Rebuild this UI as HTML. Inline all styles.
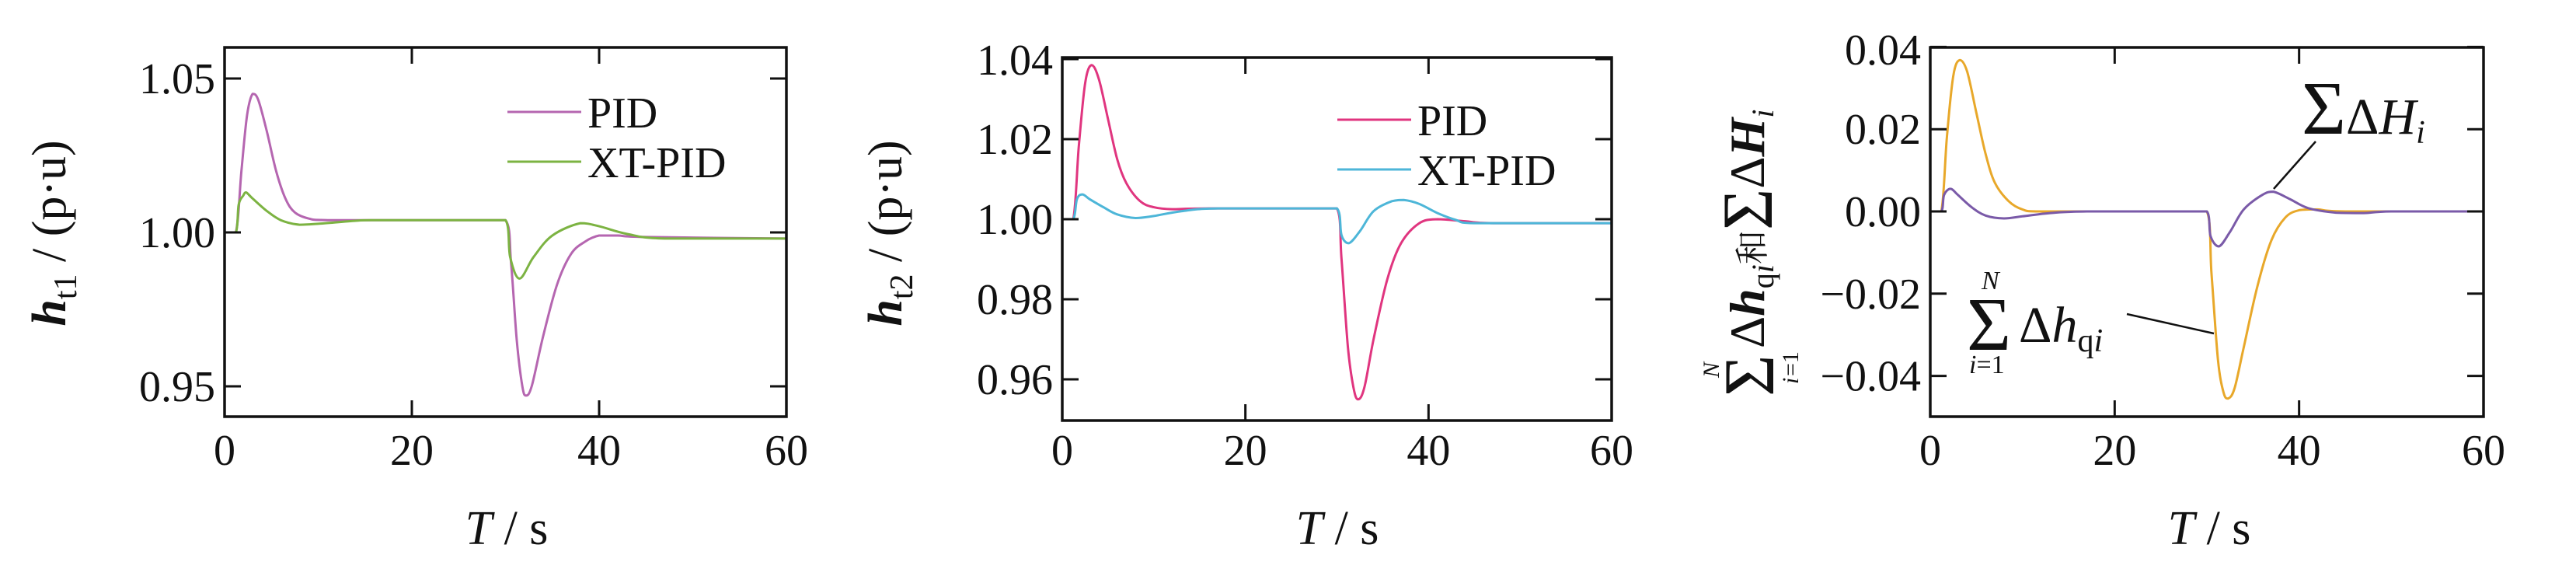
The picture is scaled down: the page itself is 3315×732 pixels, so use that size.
<!DOCTYPE html>
<html><head><meta charset="utf-8"><style>
html,body{margin:0;padding:0;background:#fff;}
svg{display:block;}
text{font-family:"Liberation Serif","Noto Serif CJK SC",serif;fill:#111;}
</style></head><body>
<svg id="s" width="3315" height="732" viewBox="0 0 3315 732" xmlns="http://www.w3.org/2000/svg">
<g transform="translate(84,300) rotate(-90)"><text text-anchor="middle" font-size="62"><tspan font-weight="bold" font-style="italic">h</tspan><tspan font-size="42" dy="14">t1</tspan><tspan dy="-14"> / (p·u)</tspan></text></g>
<g transform="translate(1160,300) rotate(-90)"><text text-anchor="middle" font-size="62"><tspan font-weight="bold" font-style="italic">h</tspan><tspan font-size="42" dy="14">t2</tspan><tspan dy="-14"> / (p·u)</tspan></text></g>
<g transform="translate(2270,282) rotate(-90)">
<text x="-228" y="12" font-size="92">Σ</text>
<text x="-212" y="44" font-size="30" font-style="italic">i</text><text x="-202" y="44" font-size="30">=1</text>
<text x="-204" y="-58" font-size="30" font-style="italic">N</text>
<text x="-166" y="0" font-size="64"><tspan>Δ</tspan><tspan font-weight="bold" font-style="italic">h</tspan><tspan font-size="40" dy="12">q</tspan><tspan font-size="40" font-style="italic">i</tspan><tspan dy="-12" font-size="44" font-family="'Noto Serif CJK SC',serif">和</tspan><tspan font-size="92" dy="10">Σ</tspan><tspan dy="-10">Δ</tspan><tspan font-weight="bold" font-style="italic">H</tspan><tspan font-size="40" dy="12" font-style="italic">i</tspan></text>
</g>
<text x="652" y="700" text-anchor="middle" font-size="62"><tspan font-style="italic">T</tspan> / s</text>
<text x="1721" y="700" text-anchor="middle" font-size="62"><tspan font-style="italic">T</tspan> / s</text>
<text x="2843" y="700" text-anchor="middle" font-size="62"><tspan font-style="italic">T</tspan> / s</text>
<g id="g"></g>
<text x="2962" y="172" font-size="66"><tspan font-size="98">Σ</tspan>Δ<tspan font-style="italic">H</tspan><tspan font-size="42" dy="12" font-style="italic">i</tspan></text>
<line x1="2980" y1="182" x2="2926" y2="243" stroke="#111" stroke-width="2.5"/>
<text x="2531" y="450" font-size="98">Σ</text>
<text x="2550" y="372" font-size="34" font-style="italic">N</text>
<text x="2534" y="480" font-size="34"><tspan font-style="italic">i</tspan>=1</text>
<text x="2598" y="440" font-size="66">Δ<tspan font-style="italic">h</tspan><tspan font-size="42" dy="12">q</tspan><tspan font-size="42" font-style="italic">i</tspan></text>
<line x1="2737" y1="404" x2="2849" y2="429" stroke="#111" stroke-width="2.5"/>
</svg>
<script>
var NS="http://www.w3.org/2000/svg",G=document.getElementById('g');
function el(n,a,t){var e=document.createElementNS(NS,n);for(var k in a)e.setAttribute(k,a[k]);if(t!==undefined)e.textContent=t;G.appendChild(e);return e;}
function cl(v,a,b){var lo=Math.min(a,b),hi=Math.max(a,b);return Math.max(lo,Math.min(hi,v));}
function cr(pts,X,Y){var d="M"+X(pts[0][0]).toFixed(1)+","+Y(pts[0][1]).toFixed(1);
for(var i=0;i<pts.length-1;i++){var p0=pts[Math.max(0,i-1)],p1=pts[i],p2=pts[i+1],p3=pts[Math.min(pts.length-1,i+2)];
var a=[X(p0[0]),Y(p0[1])],b=[X(p1[0]),Y(p1[1])],c=[X(p2[0]),Y(p2[1])],e=[X(p3[0]),Y(p3[1])];
var c1=[b[0]+(c[0]-a[0])/6,cl(b[1]+(c[1]-a[1])/6,b[1],c[1])],c2=[c[0]-(e[0]-b[0])/6,cl(c[1]-(e[1]-b[1])/6,b[1],c[1])];
c1[0]=cl(c1[0],b[0],c[0]);c2[0]=cl(c2[0],b[0],c[0]);
d+=" C"+c1.map(function(v){return v.toFixed(1)}).join(",")+" "+c2.map(function(v){return v.toFixed(1)}).join(",")+" "+c.map(function(v){return v.toFixed(1)}).join(",");}return d;}
function panel(o){var X=function(t){return o.l+(o.r-o.l)*t/60;},Y=function(v){return o.y0+(v-o.v0)*o.k;};
o.series.forEach(function(s){el('path',{d:cr(s.p,X,Y),fill:'none',stroke:s.c,'stroke-width':3,'stroke-linejoin':'round'});});
el('rect',{x:o.l,y:o.t,width:o.r-o.l,height:o.b-o.t,fill:'none',stroke:'#111','stroke-width':3.5});
[0,20,40,60].forEach(function(t){var x=X(t);el('line',{x1:x,y1:o.b,x2:x,y2:o.b-21,stroke:'#111','stroke-width':3});el('line',{x1:x,y1:o.t,x2:x,y2:o.t+21,stroke:'#111','stroke-width':3});
el('text',{x:x,y:598,'text-anchor':'middle','font-size':56},String(t));});
o.yt.forEach(function(v){var y=Y(v[0]);el('line',{x1:o.l,y1:y,x2:o.l+21,y2:y,stroke:'#111','stroke-width':3});el('line',{x1:o.r,y1:y,x2:o.r-21,y2:y,stroke:'#111','stroke-width':3});
el('text',{x:o.l-12,y:(v[2]||y)+19,'text-anchor':'end','font-size':56},v[1]);});
(o.leg||[]).forEach(function(g){el('line',{x1:g.x1,y1:g.y,x2:g.x2,y2:g.y,stroke:g.c,'stroke-width':3});el('text',{x:g.x2+8,y:g.y+20,'font-size':56},g.t);});}
panel({l:289,r:1012,t:61,b:536,y0:299,v0:1,k:-3960,yt:[[1.05,'1.05'],[1.0,'1.00'],[0.95,'0.95']],
leg:[{x1:653,x2:748,y:144,c:'#b566b0',t:'PID'},{x1:653,x2:748,y:208,c:'#7cb342',t:'XT-PID'}],
series:[{c:'#b566b0',p:[[0,1],[1.2,1],[1.8,1.02],[2.4,1.038],[3,1.045],[3.6,1.043],[4.5,1.033],[5.5,1.02],[6.5,1.011],[7.5,1.0065],[9,1.0045],[11,1.004],[30,1.004],[30.6,0.99],[31.2,0.965],[31.8,0.95],[32.2,0.947],[32.8,0.95],[34,0.966],[35.5,0.983],[37,0.993],[38.5,0.997],[40,0.999],[42,0.999],[45,0.9985],[60,0.998]]},
{c:'#7cb342',p:[[0,1],[1.2,1],[1.5,1.009],[2,1.012],[2.3,1.013],[3,1.011],[4.5,1.007],[6,1.004],[8,1.0025],[10,1.0028],[14,1.0038],[16,1.004],[30,1.004],[30.5,0.992],[31.5,0.985],[33,0.992],[35,0.999],[38,1.003],[40,1.002],[43,0.9995],[47,0.998],[60,0.998]]}]});
panel({l:1367,r:2074,t:74,b:541,y0:282,v0:1,k:-5150,yt:[[1.04,'1.04',77],[1.02,'1.02'],[1.0,'1.00'],[0.98,'0.98'],[0.96,'0.96']],
leg:[{x1:1721,x2:1816,y:154,c:'#e0357f',t:'PID'},{x1:1721,x2:1816,y:218,c:'#4db6d8',t:'XT-PID'}],
series:[{c:'#e0357f',p:[[0,1],[1.2,1],[1.8,1.018],[2.5,1.034],[3.2,1.0385],[4,1.035],[5,1.025],[6,1.015],[7,1.009],[8.5,1.0045],[10,1.003],[12,1.0025],[16,1.0027],[30,1.0027],[30.5,0.99],[31.2,0.968],[31.8,0.958],[32.3,0.955],[33,0.958],[34,0.97],[35.5,0.985],[37,0.994],[39,0.999],[41,1.0],[44,0.9995],[47,0.999],[60,0.999]]},
{c:'#4db6d8',p:[[0,1],[1.2,1],[1.6,1.005],[2.2,1.0062],[3,1.005],[4.5,1.003],[6,1.0012],[8,1.0003],[10,1.0008],[13,1.002],[17,1.0027],[30,1.0027],[30.5,0.996],[31.3,0.994],[32.5,0.997],[34,1.002],[36,1.0045],[37.3,1.0048],[39,1.0038],[41,1.0015],[43,0.9998],[45,0.999],[60,0.999]]}]});
panel({l:2484,r:3196,t:61,b:536,y0:272,v0:0,k:-5290,yt:[[0.04,'0.04',64],[0.02,'0.02'],[0,'0.00'],[-0.02,'−0.02'],[-0.04,'−0.04']],
series:[{c:'#e8a82a',p:[[0,0],[1.2,0],[1.8,0.018],[2.5,0.033],[3.2,0.0368],[4,0.034],[5,0.024],[6,0.014],[7,0.007],[8.5,0.0025],[10,0.0005],[12,0],[30,0],[30.5,-0.015],[31.2,-0.036],[31.8,-0.044],[32.3,-0.0455],[33,-0.043],[34,-0.033],[35.5,-0.018],[37,-0.007],[38.5,-0.0015],[40,0.0003],[42,0.0005],[45,0],[60,0]]},
{c:'#7a5aa8',p:[[0,0],[1.2,0],[1.5,0.004],[2.2,0.0055],[3,0.004],[4.5,0.001],[6,-0.001],[8,-0.0017],[10,-0.0012],[13,-0.0004],[17,0],[30,0],[30.4,-0.006],[31.3,-0.0085],[32.5,-0.005],[34,0.0005],[36,0.004],[37.2,0.0048],[39,0.003],[41,0.0008],[44,-0.0003],[47,-0.0004],[50,0],[60,0]]}]});
</script>
</body></html>
